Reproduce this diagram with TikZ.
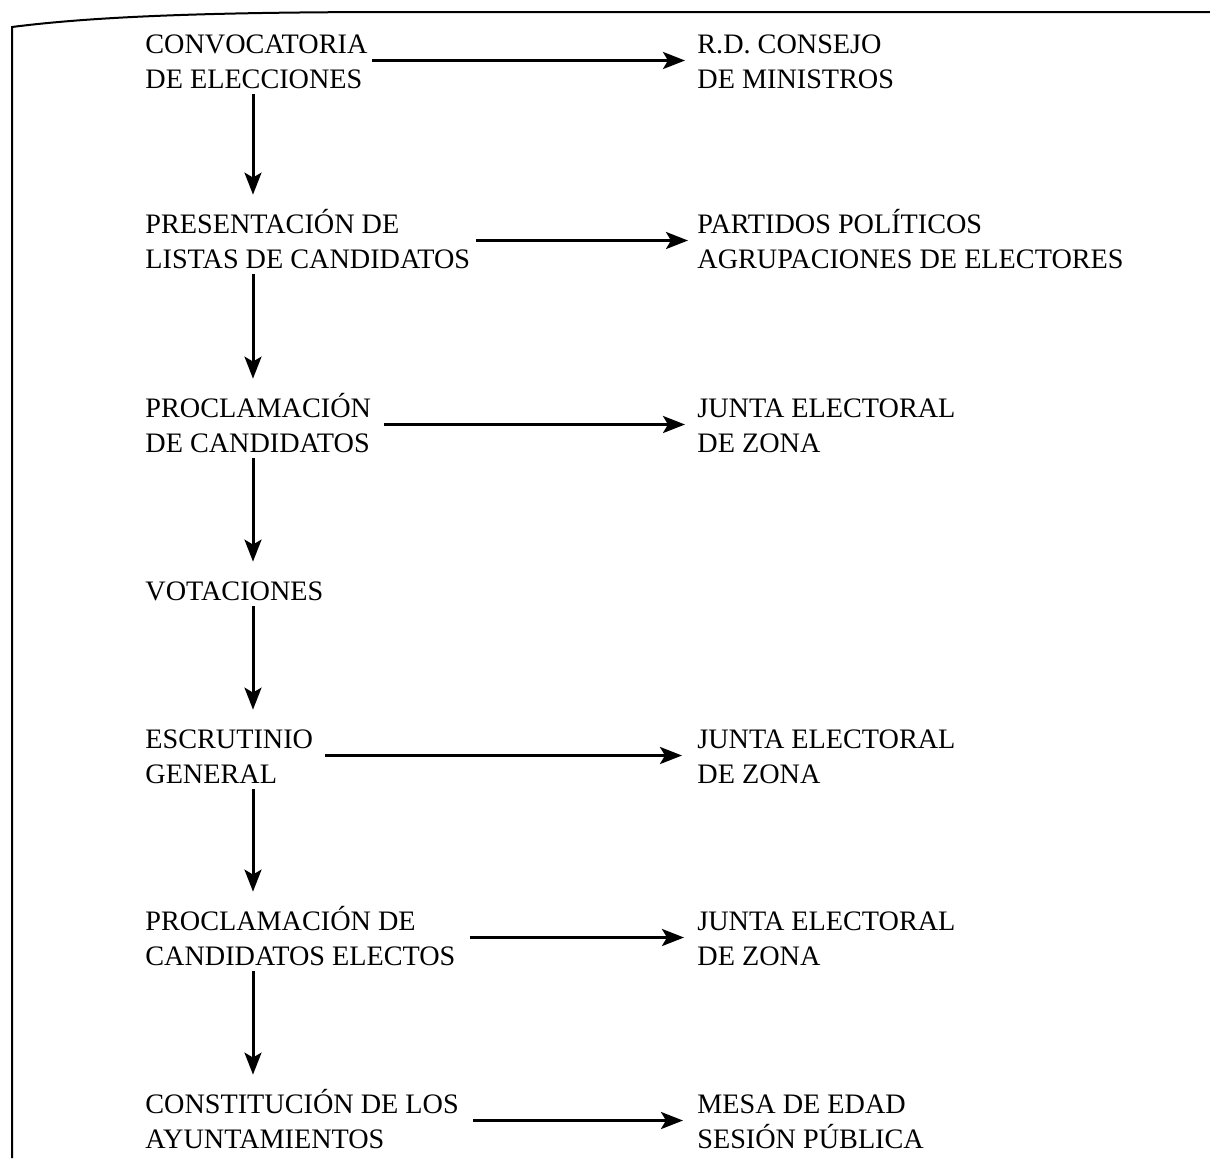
\documentclass[tikz,border=0pt]{standalone}
\usepackage{fontspec}
\setmainfont{Liberation Serif}
\usetikzlibrary{arrows.meta,calc}
\begin{document}
\begin{tikzpicture}[x=0.5pt,y=-0.5pt,
  stage/.style={anchor=base west, inner sep=0pt, font=\fontsize{14.1}{17.5}\selectfont},
  arr/.style={line width=1.5pt, -{Stealth[length=11pt,width=8.5pt,inset=2.5pt]}},
  frame/.style={line width=1pt}]
\useasboundingbox (0,0) rectangle (1210,1158);

% page frame (top and left edges)
\draw[frame] (12,1158) -- (12,27) .. controls (90,17) and (200,12) .. (400,12) -- (1210,12);

\newcommand{\twolines}[2]{\begin{tabular}[t]{@{}l@{}}#1\\#2\end{tabular}}

% steps of the procedure
\node[stage] (conv)  at (145,53)   {\twolines{CONVOCATORIA}{DE ELECCIONES}};
\node[stage] (pres)  at (145,233)  {\twolines{PRESENTACIÓN DE}{LISTAS DE CANDIDATOS}};
\node[stage] (procl) at (145,417)  {\twolines{PROCLAMACIÓN}{DE CANDIDATOS}};
\node[stage] (vot)   at (145,600)  {\begin{tabular}[t]{@{}l@{}}VOTACIONES\end{tabular}};
\node[stage] (escr)  at (145,748)  {\twolines{ESCRUTINIO}{GENERAL}};
\node[stage] (elect) at (145,930)  {\twolines{PROCLAMACIÓN DE}{CANDIDATOS ELECTOS}};
\node[stage] (const) at (145,1113) {\twolines{CONSTITUCIÓN DE LOS}{AYUNTAMIENTOS}};

% responsible bodies
\node[stage] (rd)    at (697,53)   {\twolines{R.D. CONSEJO}{DE MINISTROS}};
\node[stage] (part)  at (697,233)  {\twolines{PARTIDOS POLÍTICOS}{AGRUPACIONES DE ELECTORES}};
\node[stage] (junta1) at (697,417) {\twolines{JUNTA ELECTORAL}{DE ZONA}};
\node[stage] (junta2) at (697,748) {\twolines{JUNTA ELECTORAL}{DE ZONA}};
\node[stage] (junta3) at (697,930) {\twolines{JUNTA ELECTORAL}{DE ZONA}};
\node[stage] (mesa)  at (697,1113) {\twolines{MESA DE EDAD}{SESIÓN PÚBLICA}};

% vertical sequence
\coordinate (spine) at (253,0);
\foreach \a/\b in {conv/pres, pres/procl, procl/vot, vot/escr, escr/elect, elect/const}
  \draw[arr] ($(\a.south -| spine)+(0,-4.5)$) -- ($(\b.north -| spine)+(0,-13.5)$);

% horizontal links
\draw[arr] ([shift={(4,-3)}]conv.east)   -- ([shift={(-12,-3)}]rd.west);
\draw[arr] ([shift={(6,-3)}]pres.east)   -- ([shift={(-9,-3)}]part.west);
\draw[arr] ([shift={(13,-3)}]procl.east) -- ([shift={(-12,-3)}]junta1.west);
\draw[arr] ([shift={(12,-3)}]escr.east)  -- ([shift={(-15,-3)}]junta2.west);
\draw[arr] ([shift={(14,-3)}]elect.east) -- ([shift={(-13,-3)}]junta3.west);
\draw[arr] ([shift={(14,-3)}]const.east) -- ([shift={(-14,-3)}]mesa.west);
\end{tikzpicture}
\end{document}
